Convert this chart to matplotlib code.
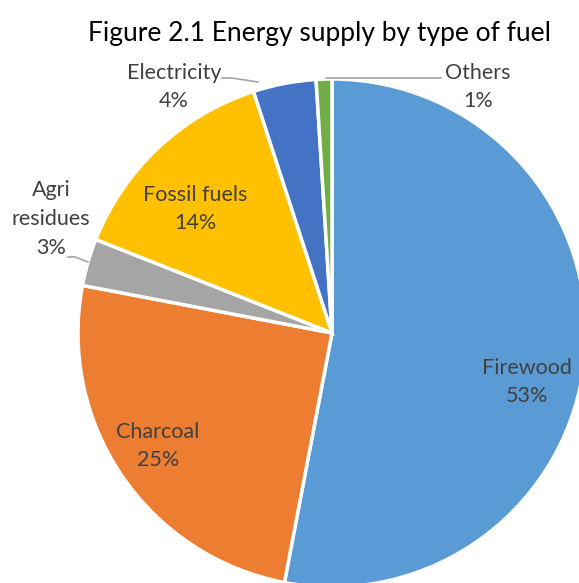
import matplotlib
matplotlib.use("Agg")
from matplotlib import pyplot as plt

# energy supply shares, clockwise from 12 o'clock
fuels = ["Firewood", "Charcoal", "Agri\nresidues", "Fossil fuels", "Electricity", "Others"]
shares = [53, 25, 3, 14, 4, 1]
colors = ["#5B9BD5", "#ED7D31", "#A5A5A5", "#FFC000", "#4472C4", "#70AD47"]

W, H = 579, 583
plt.rcParams['font.family'] = ['Lato', 'DejaVu Sans']

fig = plt.figure(figsize=(W / 100, H / 100), dpi=100)
ax = fig.add_axes([0, 0, 1, 1])


def py(y):
    # pixel row from the top -> data y
    return H - y


ax.pie(shares, colors=colors, startangle=90, counterclock=False,
       center=(332, py(333)), radius=254, frame=True,
       wedgeprops=dict(edgecolor='white', linewidth=2.5))
ax.set_xlim(0, W)
ax.set_ylim(0, H)
ax.set_aspect('equal')
ax.axis('off')

ax.text(320, py(33), "Figure 2.1 Energy supply by type of fuel",
        ha='center', va='center', fontsize=19, color='black')

txt = dict(ha='center', va='center', fontsize=15.5, color='#404040',
           linespacing=1.55)
lbl = [f"{f}\n{s}%" for f, s in zip(fuels, shares)]
ax.text(527, py(382), lbl[0], **txt)
ax.text(158, py(446), lbl[1], **txt)
ax.text(51, py(219), lbl[2], **txt)
ax.text(195, py(209), lbl[3], **txt)
ax.text(174, py(87), lbl[4], **txt)
ax.text(478, py(87), lbl[5], **txt)

# leader lines for the thin slices
lead = dict(color='#A6A6A6', linewidth=1.2)
ax.plot([68, 75, 88], [py(257), py(257), py(262)], **lead)
ax.plot([222, 232, 258], [py(78), py(78), py(82)], **lead)
ax.plot([326, 441], [py(78), py(78)], **lead)

fig.savefig("out.png", dpi=100)
